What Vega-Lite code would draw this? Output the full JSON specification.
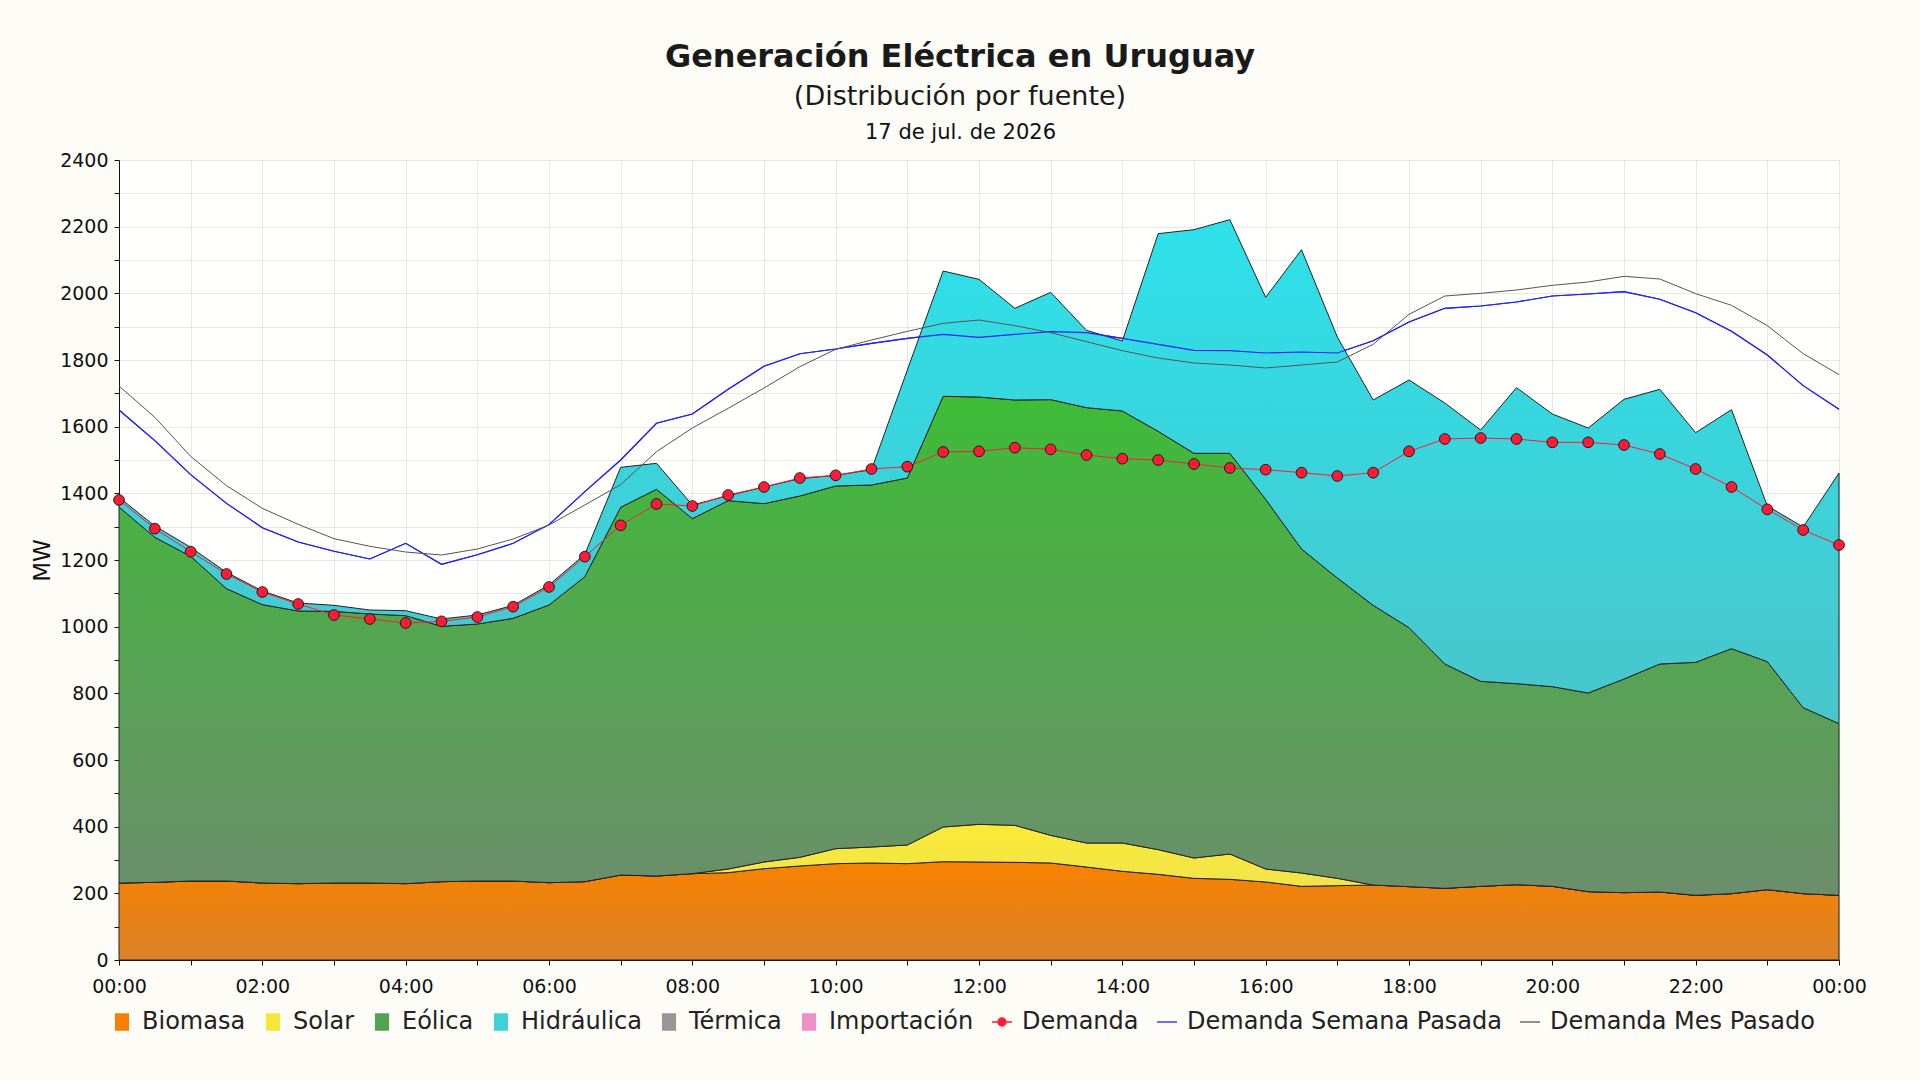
{
  "$schema": "https://vega.github.io/schema/vega-lite/v6.json",
  "width": 1720,
  "height": 800,
  "autosize": {"type": "none"},
  "padding": {"left": 119, "top": 160, "right": 81, "bottom": 120},
  "background": "#fdfcf7",
  "title": {
    "text": "Generación Eléctrica en Uruguay",
    "subtitle": "(Distribución por fuente)",
    "anchor": "middle",
    "frame": "group",
    "dx": -19,
    "font": "DejaVu Sans",
    "fontSize": 32,
    "fontWeight": "bold",
    "color": "#1a1a1a",
    "subtitleFont": "DejaVu Sans",
    "subtitleFontSize": 27,
    "subtitleColor": "#1a1a1a",
    "subtitlePadding": 10,
    "offset": 10
  },
  "config": {
    "font": "DejaVu Sans",
    "view": {"stroke": null, "fill": "#fffffd"},
    "axis": {
      "labelFont": "DejaVu Sans",
      "labelFontSize": 19,
      "labelColor": "#111111",
      "domainColor": "#111111",
      "tickColor": "#111111",
      "gridColor": "#e9e7e1",
      "gridWidth": 1,
      "titleFont": "DejaVu Sans",
      "titleFontWeight": "normal",
      "titleColor": "#111111"
    }
  },
  "datasets": {
    "generacion": [
      {"hora": "2026-07-17T00:00", "biomasa": 231, "solar": 0, "eolica": 1128, "hidraulica": 29, "demanda": 1380, "semana": 1650, "mes": 1722},
      {"hora": "2026-07-17T00:30", "biomasa": 233, "solar": 0, "eolica": 1035, "hidraulica": 34, "demanda": 1294, "semana": 1558, "mes": 1628},
      {"hora": "2026-07-17T01:00", "biomasa": 237, "solar": 0, "eolica": 974, "hidraulica": 27, "demanda": 1225, "semana": 1456, "mes": 1511},
      {"hora": "2026-07-17T01:30", "biomasa": 237, "solar": 0, "eolica": 877, "hidraulica": 49, "demanda": 1158, "semana": 1370, "mes": 1423},
      {"hora": "2026-07-17T02:00", "biomasa": 231, "solar": 0, "eolica": 835, "hidraulica": 41, "demanda": 1104, "semana": 1297, "mes": 1355},
      {"hora": "2026-07-17T02:30", "biomasa": 229, "solar": 0, "eolica": 818, "hidraulica": 24, "demanda": 1068, "semana": 1254, "mes": 1307},
      {"hora": "2026-07-17T03:00", "biomasa": 231, "solar": 0, "eolica": 815, "hidraulica": 18, "demanda": 1035, "semana": 1226, "mes": 1264},
      {"hora": "2026-07-17T03:30", "biomasa": 231, "solar": 0, "eolica": 807, "hidraulica": 12, "demanda": 1023, "semana": 1203, "mes": 1241},
      {"hora": "2026-07-17T04:00", "biomasa": 229, "solar": 0, "eolica": 804, "hidraulica": 15, "demanda": 1011, "semana": 1250, "mes": 1224},
      {"hora": "2026-07-17T04:30", "biomasa": 235, "solar": 0, "eolica": 766, "hidraulica": 22, "demanda": 1016, "semana": 1187, "mes": 1215},
      {"hora": "2026-07-17T05:00", "biomasa": 237, "solar": 0, "eolica": 771, "hidraulica": 27, "demanda": 1029, "semana": 1216, "mes": 1233},
      {"hora": "2026-07-17T05:30", "biomasa": 237, "solar": 0, "eolica": 788, "hidraulica": 39, "demanda": 1060, "semana": 1250, "mes": 1263},
      {"hora": "2026-07-17T06:00", "biomasa": 232, "solar": 0, "eolica": 833, "hidraulica": 60, "demanda": 1119, "semana": 1306, "mes": 1305},
      {"hora": "2026-07-17T06:30", "biomasa": 235, "solar": 0, "eolica": 915, "hidraulica": 67, "demanda": 1210, "semana": 1405, "mes": 1365},
      {"hora": "2026-07-17T07:00", "biomasa": 255, "solar": 0, "eolica": 1103, "hidraulica": 120, "demanda": 1304, "semana": 1500, "mes": 1426},
      {"hora": "2026-07-17T07:30", "biomasa": 252, "solar": 0, "eolica": 1160, "hidraulica": 78, "demanda": 1368, "semana": 1610, "mes": 1525},
      {"hora": "2026-07-17T08:00", "biomasa": 259, "solar": 0, "eolica": 1065, "hidraulica": 41, "demanda": 1362, "semana": 1638, "mes": 1596},
      {"hora": "2026-07-17T08:30", "biomasa": 262, "solar": 11, "eolica": 1105, "hidraulica": 15, "demanda": 1395, "semana": 1712, "mes": 1655},
      {"hora": "2026-07-17T09:00", "biomasa": 274, "solar": 20, "eolica": 1075, "hidraulica": 50, "demanda": 1419, "semana": 1781, "mes": 1716},
      {"hora": "2026-07-17T09:30", "biomasa": 282, "solar": 26, "eolica": 1084, "hidraulica": 52, "demanda": 1446, "semana": 1819, "mes": 1780},
      {"hora": "2026-07-17T10:00", "biomasa": 289, "solar": 45, "eolica": 1088, "hidraulica": 32, "demanda": 1454, "semana": 1833, "mes": 1832},
      {"hora": "2026-07-17T10:30", "biomasa": 291, "solar": 48, "eolica": 1086, "hidraulica": 46, "demanda": 1473, "semana": 1850, "mes": 1860},
      {"hora": "2026-07-17T11:00", "biomasa": 289, "solar": 56, "eolica": 1101, "hidraulica": 324, "demanda": 1480, "semana": 1865, "mes": 1886},
      {"hora": "2026-07-17T11:30", "biomasa": 295, "solar": 104, "eolica": 1292, "hidraulica": 376, "demanda": 1524, "semana": 1877, "mes": 1910},
      {"hora": "2026-07-17T12:00", "biomasa": 294, "solar": 113, "eolica": 1282, "hidraulica": 353, "demanda": 1526, "semana": 1868, "mes": 1920},
      {"hora": "2026-07-17T12:30", "biomasa": 293, "solar": 111, "eolica": 1276, "hidraulica": 275, "demanda": 1537, "semana": 1877, "mes": 1903},
      {"hora": "2026-07-17T13:00", "biomasa": 291, "solar": 83, "eolica": 1307, "hidraulica": 322, "demanda": 1532, "semana": 1885, "mes": 1882},
      {"hora": "2026-07-17T13:30", "biomasa": 279, "solar": 72, "eolica": 1306, "hidraulica": 232, "demanda": 1515, "semana": 1882, "mes": 1855},
      {"hora": "2026-07-17T14:00", "biomasa": 266, "solar": 85, "eolica": 1296, "hidraulica": 210, "demanda": 1504, "semana": 1865, "mes": 1828},
      {"hora": "2026-07-17T14:30", "biomasa": 257, "solar": 74, "eolica": 1255, "hidraulica": 593, "demanda": 1500, "semana": 1847, "mes": 1806},
      {"hora": "2026-07-17T15:00", "biomasa": 245, "solar": 61, "eolica": 1214, "hidraulica": 671, "demanda": 1488, "semana": 1829, "mes": 1791},
      {"hora": "2026-07-17T15:30", "biomasa": 242, "solar": 76, "eolica": 1202, "hidraulica": 701, "demanda": 1476, "semana": 1828, "mes": 1785},
      {"hora": "2026-07-17T16:00", "biomasa": 234, "solar": 39, "eolica": 1109, "hidraulica": 606, "demanda": 1471, "semana": 1821, "mes": 1776},
      {"hora": "2026-07-17T16:30", "biomasa": 221, "solar": 40, "eolica": 972, "hidraulica": 898, "demanda": 1462, "semana": 1824, "mes": 1785},
      {"hora": "2026-07-17T17:00", "biomasa": 223, "solar": 22, "eolica": 901, "hidraulica": 723, "demanda": 1452, "semana": 1821, "mes": 1794},
      {"hora": "2026-07-17T17:30", "biomasa": 225, "solar": 0, "eolica": 839, "hidraulica": 616, "demanda": 1462, "semana": 1858, "mes": 1847},
      {"hora": "2026-07-17T18:00", "biomasa": 220, "solar": 0, "eolica": 777, "hidraulica": 743, "demanda": 1526, "semana": 1914, "mes": 1937},
      {"hora": "2026-07-17T18:30", "biomasa": 215, "solar": 0, "eolica": 673, "hidraulica": 783, "demanda": 1563, "semana": 1955, "mes": 1992},
      {"hora": "2026-07-17T19:00", "biomasa": 221, "solar": 0, "eolica": 615, "hidraulica": 754, "demanda": 1566, "semana": 1962, "mes": 2000},
      {"hora": "2026-07-17T19:30", "biomasa": 226, "solar": 0, "eolica": 603, "hidraulica": 888, "demanda": 1563, "semana": 1974, "mes": 2010},
      {"hora": "2026-07-17T20:00", "biomasa": 221, "solar": 0, "eolica": 599, "hidraulica": 818, "demanda": 1553, "semana": 1992, "mes": 2024},
      {"hora": "2026-07-17T20:30", "biomasa": 205, "solar": 0, "eolica": 596, "hidraulica": 795, "demanda": 1553, "semana": 1998, "mes": 2034},
      {"hora": "2026-07-17T21:00", "biomasa": 202, "solar": 0, "eolica": 641, "hidraulica": 839, "demanda": 1545, "semana": 2005, "mes": 2051},
      {"hora": "2026-07-17T21:30", "biomasa": 204, "solar": 0, "eolica": 684, "hidraulica": 824, "demanda": 1518, "semana": 1982, "mes": 2043},
      {"hora": "2026-07-17T22:00", "biomasa": 194, "solar": 0, "eolica": 699, "hidraulica": 689, "demanda": 1473, "semana": 1942, "mes": 1999},
      {"hora": "2026-07-17T22:30", "biomasa": 199, "solar": 0, "eolica": 735, "hidraulica": 717, "demanda": 1419, "semana": 1886, "mes": 1964},
      {"hora": "2026-07-17T23:00", "biomasa": 211, "solar": 0, "eolica": 684, "hidraulica": 467, "demanda": 1352, "semana": 1815, "mes": 1903},
      {"hora": "2026-07-17T23:30", "biomasa": 199, "solar": 0, "eolica": 558, "hidraulica": 542, "demanda": 1290, "semana": 1723, "mes": 1819},
      {"hora": "2026-07-18T00:00", "biomasa": 194, "solar": 0, "eolica": 515, "hidraulica": 752, "demanda": 1245, "semana": 1652, "mes": 1756}
    ],
    "orden": [
      {"fuente": "biomasa", "n": 1},
      {"fuente": "solar", "n": 2},
      {"fuente": "eolica", "n": 3},
      {"fuente": "hidraulica", "n": 4}
    ]
  },
  "data": {"name": "generacion", "format": {"parse": {"hora": "date"}}},
  "resolve": {"axis": {"x": "independent", "y": "independent"}},
  "layer": [
    {
      "mark": {"type": "line", "strokeWidth": 1.1},
      "encoding": {
        "x": {
          "field": "hora",
          "type": "temporal",
          "scale": {"domain": [{"year": 2026, "month": 7, "date": 17, "hours": 0}, {"year": 2026, "month": 7, "date": 18, "hours": 0}], "nice": false},
          "axis": {
            "title": null,
            "orient": "bottom",
            "values": [
              {"year": 2026, "month": 7, "date": 17, "hours": 0}, {"year": 2026, "month": 7, "date": 17, "hours": 1},
              {"year": 2026, "month": 7, "date": 17, "hours": 2}, {"year": 2026, "month": 7, "date": 17, "hours": 3},
              {"year": 2026, "month": 7, "date": 17, "hours": 4}, {"year": 2026, "month": 7, "date": 17, "hours": 5},
              {"year": 2026, "month": 7, "date": 17, "hours": 6}, {"year": 2026, "month": 7, "date": 17, "hours": 7},
              {"year": 2026, "month": 7, "date": 17, "hours": 8}, {"year": 2026, "month": 7, "date": 17, "hours": 9},
              {"year": 2026, "month": 7, "date": 17, "hours": 10}, {"year": 2026, "month": 7, "date": 17, "hours": 11},
              {"year": 2026, "month": 7, "date": 17, "hours": 12}, {"year": 2026, "month": 7, "date": 17, "hours": 13},
              {"year": 2026, "month": 7, "date": 17, "hours": 14}, {"year": 2026, "month": 7, "date": 17, "hours": 15},
              {"year": 2026, "month": 7, "date": 17, "hours": 16}, {"year": 2026, "month": 7, "date": 17, "hours": 17},
              {"year": 2026, "month": 7, "date": 17, "hours": 18}, {"year": 2026, "month": 7, "date": 17, "hours": 19},
              {"year": 2026, "month": 7, "date": 17, "hours": 20}, {"year": 2026, "month": 7, "date": 17, "hours": 21},
              {"year": 2026, "month": 7, "date": 17, "hours": 22}, {"year": 2026, "month": 7, "date": 17, "hours": 23},
              {"year": 2026, "month": 7, "date": 18, "hours": 0}
            ],
            "format": "%H:%M",
            "labelExpr": "parseInt(datum.label) % 2 === 0 ? datum.label : ''",
            "labelOverlap": false,
            "labelFlush": false,
            "tickSize": 5,
            "labelPadding": 12,
            "grid": true
          }
        },
        "y": {
          "field": "semana",
          "type": "quantitative",
          "scale": {"domain": [0, 2400], "nice": false},
          "axis": {
            "title": "MW",
            "titleFontSize": 23,
            "titlePadding": 5,
            "values": [0, 100, 200, 300, 400, 500, 600, 700, 800, 900, 1000, 1100, 1200, 1300, 1400, 1500, 1600, 1700, 1800, 1900, 2000, 2100, 2200, 2300, 2400],
            "labelExpr": "datum.value % 200 === 0 ? datum.label : ''",
            "format": "d",
            "tickSize": 5,
            "labelPadding": 6,
            "grid": true
          }
        },
        "color": {
          "datum": "Demanda Semana Pasada",
          "scale": {
            "domain": ["Biomasa", "Solar", "Eólica", "Hidráulica", "Térmica", "Importación", "Demanda", "Demanda Semana Pasada", "Demanda Mes Pasado"],
            "range": ["#f58000", "#f5e63b", "#53a253", "#40d0d6", "#9a9494", "#f08ec6", "#ff1a35", "#2222ff", "#555555"]
          },
          "legend": {
            "title": null,
            "orient": "none",
            "legendX": -9,
            "legendY": 850,
            "direction": "horizontal",
            "columns": 9,
            "labelFont": "DejaVu Sans",
            "labelFontSize": 24,
            "labelColor": "#222222",
            "labelLimit": 600,
            "labelOffset": 8,
            "columnPadding": 15,
            "symbolSize": 256,
            "symbolStrokeWidth": 1,
            "encode": {
              "symbols": {
                "update": {
                  "shape": {"signal": "datum.value === 'Demanda' ? 'M-1,0H-0.4M0.4,0H1M0.4,0A0.4,0.4 0 1,1 -0.4,0A0.4,0.4 0 1,1 0.4,0' : (datum.value === 'Demanda Semana Pasada' || datum.value === 'Demanda Mes Pasado') ? 'stroke' : 'M-0.8,-1H0.8V1H-0.8Z'"},
                  "size": {"signal": "(datum.value === 'Demanda' || datum.value === 'Demanda Semana Pasada' || datum.value === 'Demanda Mes Pasado') ? 400 : 256"},
                  "fill": {"signal": "scale('color', datum.value)"},
                  "fillOpacity": {"value": 1},
                  "opacity": {"value": 1},
                  "stroke": {"signal": "(datum.value === 'Demanda' || datum.value === 'Demanda Semana Pasada' || datum.value === 'Demanda Mes Pasado') ? scale('color', datum.value) : '#222222'"},
                  "strokeWidth": {"value": 1.3}
                }
              }
            }
          }
        }
      }
    },
    {
      "transform": [
        {"fold": ["biomasa", "solar", "eolica", "hidraulica"], "as": ["fuente", "mw"]},
        {"lookup": "fuente", "from": {"data": {"name": "orden"}, "key": "fuente", "fields": ["n"]}},
        {"stack": "mw", "groupby": ["hora"], "sort": [{"field": "n", "order": "ascending"}], "as": ["y0", "y1"]}
      ],
      "layer": [
        {
          "transform": [{"filter": "datum.fuente === 'biomasa'"}],
          "mark": {
            "type": "area",
            "fill": {"gradient": "linear", "x1": 0, "y1": 0, "x2": 0, "y2": 1, "stops": [{"offset": 0, "color": "#f78200"}, {"offset": 1, "color": "#dc8228"}]},
            "fillOpacity": 1,
            "stroke": "#222222",
            "strokeWidth": 1
          },
          "encoding": {
            "x": {"field": "hora", "type": "temporal", "axis": null},
            "y": {"field": "y1", "type": "quantitative", "axis": null},
            "y2": {"field": "y0"}
          }
        },
        {
          "transform": [{"filter": "datum.fuente === 'solar'"}],
          "mark": {
            "type": "area",
            "fill": {"gradient": "linear", "x1": 0, "y1": 0, "x2": 0, "y2": 1, "stops": [{"offset": 0, "color": "#fbea36"}, {"offset": 1, "color": "#efe34e"}]},
            "fillOpacity": 1,
            "stroke": "#222222",
            "strokeWidth": 1
          },
          "encoding": {
            "x": {"field": "hora", "type": "temporal", "axis": null},
            "y": {"field": "y1", "type": "quantitative", "axis": null},
            "y2": {"field": "y0"}
          }
        },
        {
          "transform": [{"filter": "datum.fuente === 'eolica'"}],
          "mark": {
            "type": "area",
            "fill": {"gradient": "linear", "x1": 0, "y1": 0, "x2": 0, "y2": 1, "stops": [{"offset": 0, "color": "#3ebc37"}, {"offset": 1, "color": "#6b8e6b"}]},
            "fillOpacity": 1,
            "stroke": "#222222",
            "strokeWidth": 1
          },
          "encoding": {
            "x": {"field": "hora", "type": "temporal", "axis": null},
            "y": {"field": "y1", "type": "quantitative", "axis": null},
            "y2": {"field": "y0"}
          }
        },
        {
          "transform": [{"filter": "datum.fuente === 'hidraulica'"}],
          "mark": {
            "type": "area",
            "fill": {"gradient": "linear", "x1": 0, "y1": 0, "x2": 0, "y2": 1, "stops": [{"offset": 0, "color": "#2de1ea"}, {"offset": 1, "color": "#49c5cb"}]},
            "fillOpacity": 1,
            "stroke": "#222222",
            "strokeWidth": 1
          },
          "encoding": {
            "x": {"field": "hora", "type": "temporal", "axis": null},
            "y": {"field": "y1", "type": "quantitative", "axis": null},
            "y2": {"field": "y0"}
          }
        }
      ]
    },
    {
      "mark": {"type": "line", "strokeWidth": 1.1},
      "encoding": {
        "x": {"field": "hora", "type": "temporal", "axis": null},
        "y": {"field": "semana", "type": "quantitative", "axis": null},
        "color": {"datum": "Demanda Semana Pasada", "legend": null}
      }
    },
    {
      "mark": {"type": "line", "strokeWidth": 1},
      "encoding": {
        "x": {
          "field": "hora",
          "type": "temporal",
          "axis": {
            "orient": "top",
            "title": "17 de jul. de 2026",
            "titleFontSize": 21,
            "titlePadding": 18,
            "titleX": 841,
            "labels": false,
            "ticks": false,
            "domain": false,
            "grid": false
          }
        },
        "y": {"field": "mes", "type": "quantitative", "axis": null},
        "color": {"datum": "Demanda Mes Pasado", "legend": null}
      }
    },
    {
      "mark": {"type": "line", "strokeWidth": 1},
      "encoding": {
        "x": {"field": "hora", "type": "temporal", "axis": null},
        "y": {"field": "demanda", "type": "quantitative", "axis": null},
        "color": {"datum": "Demanda", "legend": null}
      }
    },
    {
      "mark": {"type": "point", "filled": true, "fill": "#ff1a35", "stroke": "#111111", "strokeWidth": 0.9, "size": 115, "opacity": 1},
      "encoding": {
        "x": {"field": "hora", "type": "temporal", "axis": null},
        "y": {"field": "demanda", "type": "quantitative", "axis": null}
      }
    }
  ]
}
